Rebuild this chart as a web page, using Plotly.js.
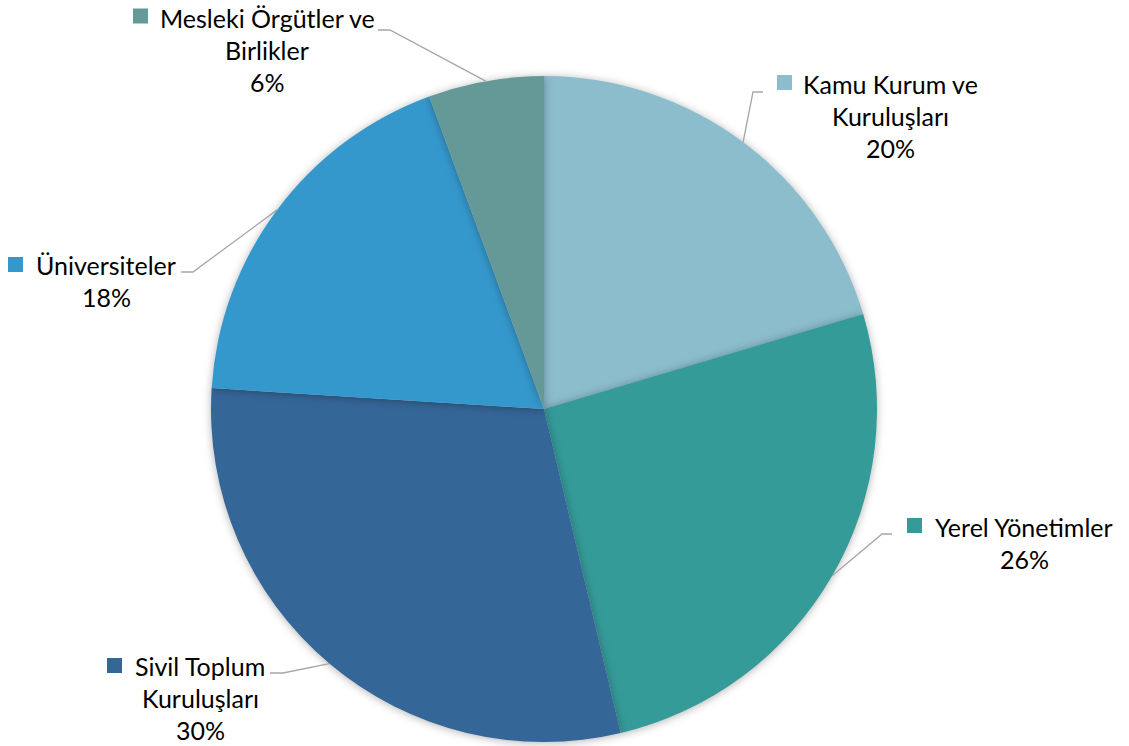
<!DOCTYPE html>
<html>
<head>
<meta charset="utf-8">
<script src="https://cdn.plot.ly/plotly-3.0.1.min.js"></script>
<style>
html,body{margin:0;padding:0;background:#fff;}
#chart{width:1129px;height:746px;}
.pielayer .slice path.surface{filter:drop-shadow(0px 1px 4px rgba(0,0,0,0.30));}
</style>
</head>
<body>
<div id="chart"></div>
<script>
// Data
var categories = ["Kamu Kurum ve Kuruluşları", "Yerel Yönetimler", "Sivil Toplum Kuruluşları", "Üniversiteler", "Mesleki Örgütler ve Birlikler"];
var values = [20.4, 25.9, 29.7, 18.4, 5.6];
var percentLabels = ["20%", "26%", "30%", "18%", "6%"];
var labelLines = [
  ["Kamu Kurum ve", "Kuruluşları"],
  ["Yerel Yönetimler"],
  ["Sivil Toplum", "Kuruluşları"],
  ["Üniversiteler"],
  ["Mesleki Örgütler ve", "Birlikler"]
];
var colors = ["#8BBDCD", "#359B99", "#356698", "#3598CC", "#659997"];

// Layout (pixel geometry)
var W = 1129, H = 746;
var cx = 544, cy = 409, R = 333;
// label placement: text block center x, first line center y, marker center, elbow, line end
var labelPos = [
  {tx: 890, ty: 84, mx: 784.5, my: 82.5, ex: 753, ey: 92, lx: 763, ly: 92},
  {tx: 1024, ty: 527, mx: 914.5, my: 525.5, ex: 882, ey: 534, lx: 892, ly: 534},
  {tx: 200, ty: 666, mx: 114.5, my: 665.5, ex: 283, ey: 673, lx: 270, ly: 673},
  {tx: 106, ty: 265, mx: 15.5, my: 264.5, ex: 193, ey: 272, lx: 181, ly: 272},
  {tx: 267, ty: 18, mx: 140.5, my: 16, ex: 390, ey: 30, lx: 378, ly: 30}
];
var fontSize = 25, lineH = 32;

function px(x){return x / W;}
function py(y){return 1 - y / H;}

var total = values.reduce(function(a,b){return a+b;}, 0);
var shapes = [], annotations = [];
var cum = 0;
for (var i = 0; i < values.length; i++) {
  var mid = (cum + values[i] / 2) / total * 2 * Math.PI;
  cum += values[i];
  var edgeX = cx + R * Math.sin(mid), edgeY = cy - R * Math.cos(mid);
  var p = labelPos[i];
  shapes.push({type: 'path', xref: 'paper', yref: 'paper',
    path: 'M ' + px(edgeX) + ' ' + py(edgeY) + ' L ' + px(p.ex) + ' ' + py(p.ey) + ' L ' + px(p.lx) + ' ' + py(p.ly),
    line: {color: '#A6A6A6', width: 1.3}});
  shapes.push({type: 'rect', xref: 'paper', yref: 'paper',
    x0: px(p.mx - 7.5), x1: px(p.mx + 7.5), y0: py(p.my + 7.5), y1: py(p.my - 7.5),
    fillcolor: colors[i], line: {width: 0}});
  var lines = labelLines[i].concat([percentLabels[i]]);
  for (var k = 0; k < lines.length; k++) {
    annotations.push({xref: 'paper', yref: 'paper', x: px(p.tx), y: py(p.ty + k * lineH),
      xanchor: 'center', yanchor: 'middle', align: 'center',
      borderpad: 0, showarrow: false,
      text: lines[k],
      font: {family: 'Lato, "Open Sans", sans-serif', size: fontSize, color: '#000000'}});
  }
}

var trace = {
  type: 'pie',
  labels: categories,
  values: values,
  sort: false,
  direction: 'clockwise',
  rotation: 0,
  textinfo: 'none',
  hoverinfo: 'label+percent',
  marker: {colors: colors, line: {width: 0}},
  domain: {x: [(cx - R) / W, (cx + R) / W], y: [1 - (cy + R) / H, 1 - (cy - R) / H]},
  showlegend: false
};

var layout = {
  width: W, height: H,
  margin: {l: 0, r: 0, t: 0, b: 0},
  paper_bgcolor: '#ffffff',
  showlegend: false,
  shapes: shapes,
  annotations: annotations
};

Plotly.newPlot('chart', [trace], layout, {displayModeBar: false, staticPlot: true});
</script>
</body>
</html>
